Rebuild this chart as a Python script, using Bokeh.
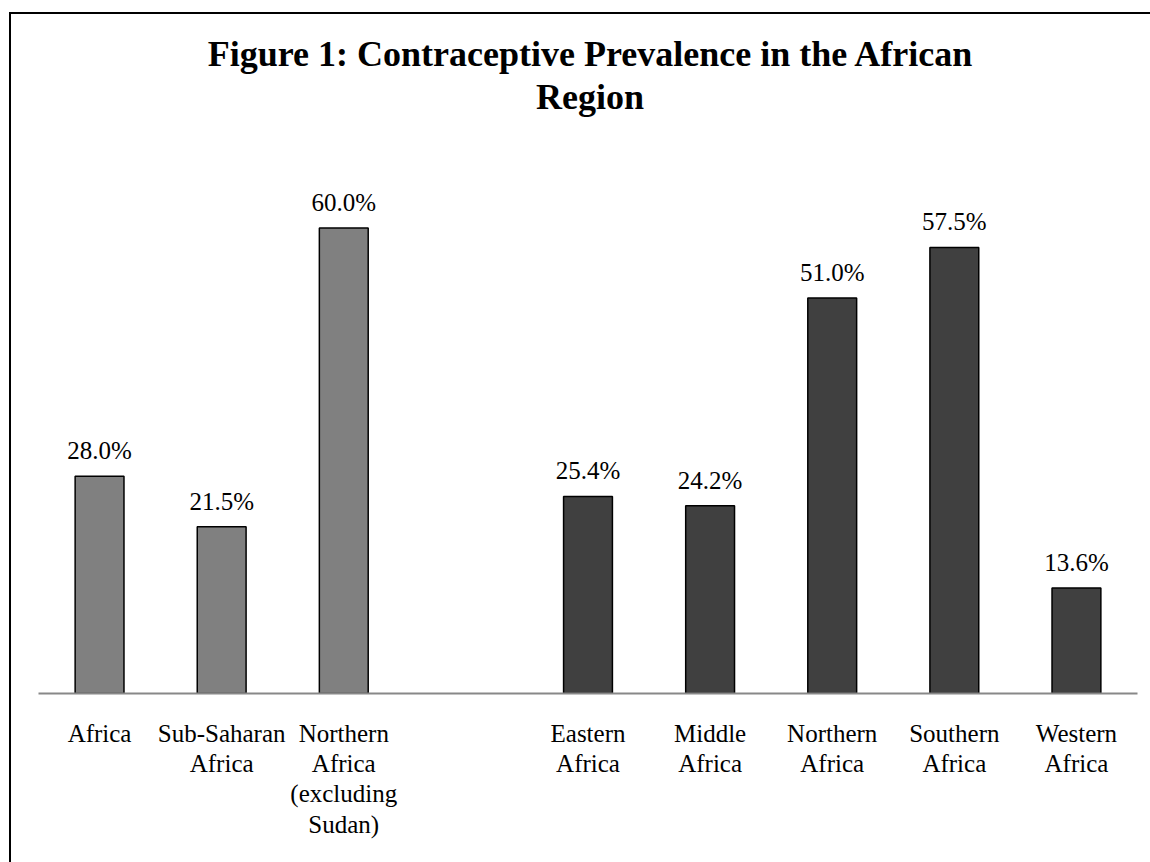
from bokeh.plotting import figure
from bokeh.models import ColumnDataSource, LabelSet, FactorRange, Div
from bokeh.layouts import column
from bokeh.core.properties import value
from bokeh.embed import file_html
from bokeh.resources import INLINE

# ---- data ----
categories = ["Africa", "Sub-Saharan Africa", "Northern Africa (excluding Sudan)",
              "Eastern Africa", "Middle Africa", "Northern Africa",
              "Southern Africa", "Western Africa"]
tick_labels = ["Africa", "Sub-Saharan\nAfrica", "Northern\nAfrica\n(excluding\nSudan)",
               "Eastern\nAfrica", "Middle\nAfrica", "Northern\nAfrica",
               "Southern\nAfrica", "Western\nAfrica"]
values = [28.0, 21.5, 60.0, 25.4, 24.2, 51.0, 57.5, 13.6]
groups = ["aggregate", "aggregate", "aggregate",
          "subregion", "subregion", "subregion", "subregion", "subregion"]
gap_label = " "
title_lines = ["Figure 1: Contraceptive Prevalence in the African", "Region"]

group_colors = {"aggregate": "#808080", "subregion": "#404040"}

factors = tick_labels[:3] + [gap_label] + tick_labels[3:]

src = ColumnDataSource(dict(
    x=tick_labels,
    top=values,
    color=[group_colors[g] for g in groups],
    label=[f"{v:.1f}%" for v in values],
))

FONT = "Liberation Serif"

title_div = Div(
    text=("<div style=\"font-family:'Liberation Serif',serif;font-size:36px;"
          "font-weight:bold;line-height:43px;text-align:center;color:black;"
          "padding-top:14px;margin-left:9px;width:1130px;\">"
          + "<br>".join(title_lines) + "</div>"),
    width=1139, height=126,
)

p = figure(
    x_range=FactorRange(*factors, range_padding=0),
    y_range=(0, 70),
    width=1139, height=712,
    output_backend="svg", toolbar_location=None,
    min_border_left=27, min_border_right=13, min_border_bottom=169, min_border_top=0,
)
p.title.visible = False

p.vbar(x="x", top="top", width=0.40, source=src, fill_color="color",
       line_color="black", line_width=1.5)

labels = LabelSet(x="x", y="top", text="label", source=src, text_align="center",
                  text_baseline="alphabetic", y_offset=17,
                  text_font=value(FONT), text_font_size=value("25px"), text_color="black")
p.add_layout(labels)

p.yaxis.visible = False
p.xgrid.grid_line_color = None
p.ygrid.grid_line_color = None
p.outline_line_color = None

ax = p.xaxis[0]
ax.axis_line_color = "#888888"
ax.axis_line_width = 2
ax.major_tick_line_color = None
ax.minor_tick_line_color = None
ax.major_tick_out = 0
ax.major_tick_in = 0
ax.major_label_standoff = 26
ax.major_label_text_font = FONT
ax.major_label_text_font_size = "25px"
ax.major_label_text_line_height = 1.125
ax.major_label_text_color = "black"
ax.major_label_orientation = "horizontal"

layout = column(title_div, p, spacing=0)
layout.styles = {"margin-left": "9px", "margin-top": "12px",
                 "border-left": "2px solid black", "border-top": "2px solid black"}

open("out.html", "w").write(file_html(layout, INLINE))
